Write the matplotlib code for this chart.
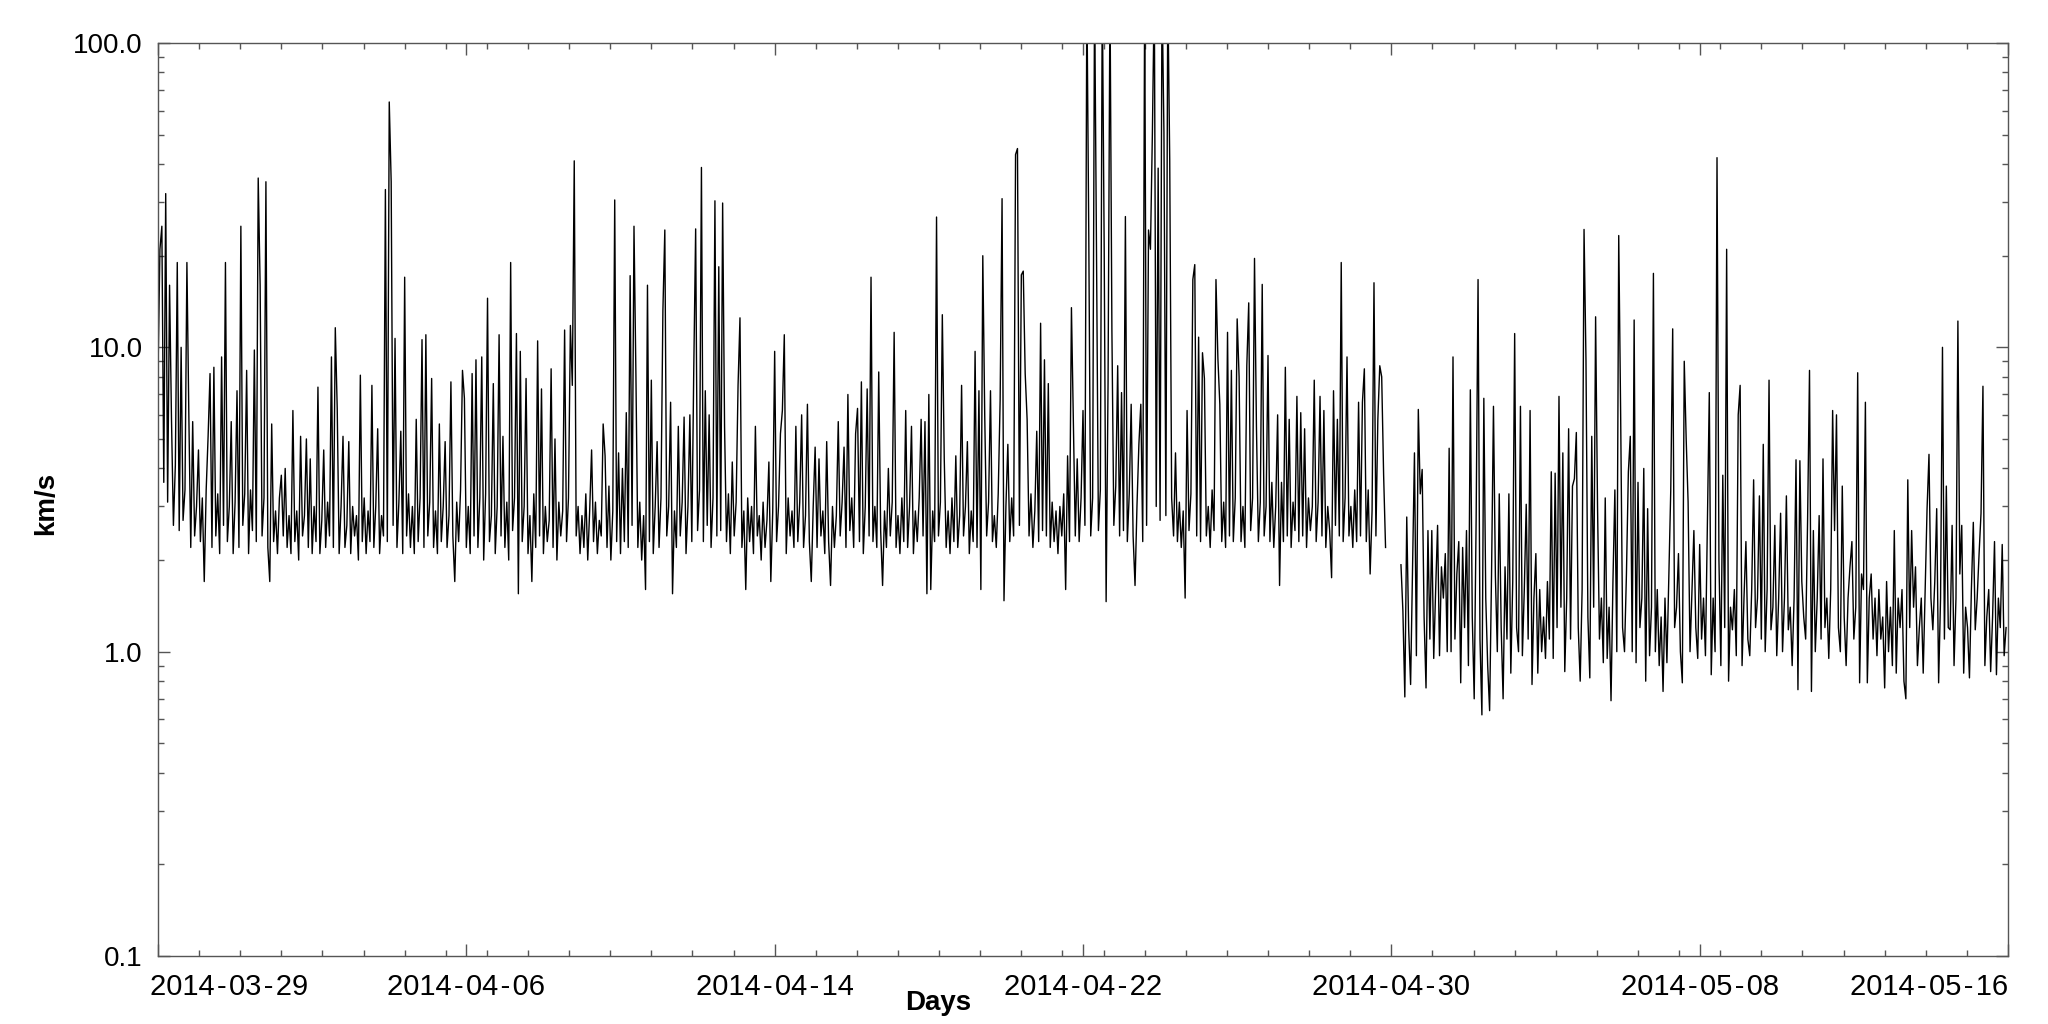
import datetime as dt
import matplotlib
matplotlib.use("Agg")
import matplotlib.pyplot as plt
import matplotlib.transforms as mtransforms
import pandas as pd

# sampled every 72 min from 2014-03-29 00:00; values in km/s
seg1 = [
    8.2, 21, 25, 3.6, 32, 3.1, 16, 5.8, 2.6, 4.1, 19, 2.5, 10, 2.7, 3.4, 19, 6.0, 2.2, 5.7, 2.4,
    3.0, 4.6, 2.3, 3.2, 1.7, 3.4, 5.1, 8.2, 2.2, 8.6, 2.4, 3.3, 2.1, 9.3, 2.6, 19, 2.3, 3.0, 5.7, 2.1,
    3.1, 7.2, 2.2, 25, 2.6, 3.3, 8.4, 2.1, 3.4, 2.5, 9.8, 2.3, 36, 16, 2.4, 3.2, 35, 2.2, 1.7, 5.6,
    2.3, 2.9, 2.1, 3.2, 3.8, 2.4, 4.0, 2.2, 2.8, 2.1, 6.2, 2.3, 2.9, 2.0, 5.1, 2.4, 2.8, 5.0, 2.2, 4.3,
    2.1, 3.0, 2.3, 7.4, 2.1, 2.7, 4.6, 2.2, 3.1, 2.4, 9.3, 2.2, 11.6, 6.3, 2.1, 3.0, 5.1, 2.2, 2.6, 4.9,
    2.1, 3.0, 2.4, 2.8, 2.0, 8.1, 2.3, 3.2, 2.1, 2.9, 2.3, 7.5, 2.2, 3.0, 5.4, 2.1, 2.8, 2.4, 33, 2.3,
    64, 35, 2.6, 10.7, 2.2, 3.1, 5.3, 2.1, 17, 2.4, 3.3, 2.2, 3.0, 2.1, 5.8, 2.3, 3.2, 10.6, 2.2, 11,
    2.4, 3.1, 7.9, 2.2, 2.9, 2.1, 5.6, 2.3, 3.0, 4.9, 2.2, 2.8, 7.7, 2.4, 1.7, 3.1, 2.3, 3.4, 8.4, 6.8,
    2.2, 3.0, 2.1, 8.2, 2.4, 9.1, 2.2, 3.2, 9.3, 2.0, 3.3, 14.5, 2.3, 2.8, 7.6, 2.1, 3.0, 11, 2.4, 5.1,
    2.2, 3.1, 2.0, 19, 2.5, 3.2, 11.1, 1.55, 9.7, 2.3, 3.0, 7.9, 2.1, 2.8, 1.7, 3.3, 2.2, 10.5, 2.4, 7.3,
    2.1, 3.0, 2.3, 2.7, 8.5, 2.2, 5.0, 2.0, 3.1, 2.4, 2.9, 11.4, 2.3, 3.2, 11.8, 7.5, 41, 2.4, 3.0, 2.1,
    2.8, 2.2, 3.3, 2.0, 2.9, 4.6, 2.3, 3.1, 2.1, 2.7, 2.4, 5.6, 4.4, 2.2, 3.5, 2.0, 2.9, 30.5, 2.3, 4.5,
    2.1, 4.0, 2.3, 6.1, 2.2, 17.2, 2.6, 25, 8.1, 2.2, 3.1, 2.0, 2.8, 1.6, 16, 2.3, 7.8, 2.1, 3.0, 4.9,
    2.2, 3.2, 13.2, 24.3, 2.4, 3.0, 6.6, 1.55, 2.9, 2.2, 5.5, 2.4, 3.1, 5.9, 2.1, 3.0, 6.0, 2.3, 8.3, 24.5,
    2.5, 3.4, 39, 2.3, 7.2, 2.6, 6.0, 2.2, 3.2, 30.3, 2.4, 18.4, 2.5, 29.8, 5.5, 2.3, 3.3, 2.1, 4.2, 2.4,
    3.1, 7.5, 12.5, 2.2, 2.9, 1.6, 3.2, 2.3, 3.0, 2.1, 5.5, 2.4, 2.8, 2.0, 3.1, 2.2, 2.7, 4.2, 1.7, 2.9,
    9.7, 2.3, 3.0, 5.2, 6.2, 11, 2.1, 3.2, 2.4, 2.9, 2.2, 5.5, 2.3, 3.1, 6.0, 2.2, 2.8, 6.5, 2.3, 1.7,
    3.0, 4.7, 2.2, 4.3, 2.4, 2.9, 2.1, 4.9, 2.3, 1.65, 3.0, 2.2, 2.8, 5.7, 2.4, 3.1, 4.7, 2.2, 7.0, 2.5,
    3.2, 2.2, 5.2, 6.3, 2.3, 7.7, 2.1, 3.0, 7.3, 2.4, 17, 2.3, 3.0, 2.2, 8.3, 2.5, 1.65, 2.9, 2.2, 4.0,
    2.4, 3.1, 11.2, 2.2, 2.8, 2.1, 3.2, 2.3, 6.2, 2.2, 3.0, 5.5, 2.1, 2.9, 2.3, 3.2, 5.8, 2.4, 5.7, 1.55,
    7.0, 1.6, 2.9, 2.3, 26.8, 2.4, 3.1, 12.8, 4.3, 2.2, 2.9, 2.1, 3.2, 2.3, 4.4, 2.2, 2.8, 7.5, 2.4, 3.0,
    4.9, 2.1, 2.9, 2.3, 9.7, 2.2, 7.2, 1.6, 20, 6.0, 2.4, 3.1, 7.2, 2.3, 2.8, 2.2, 3.3, 6.7, 30.8, 1.47,
    3.0, 4.8, 2.3, 3.2, 2.4, 43, 45, 2.6, 17.3, 17.8, 8.2, 5.8, 2.4, 3.3, 2.2, 2.9, 5.3, 2.3, 12, 2.5,
    9.1, 2.4, 7.6, 2.2, 3.1, 2.3, 2.9, 2.1, 3.0, 2.4, 3.3, 1.6, 4.4, 2.3, 13.5, 5.6, 2.4, 4.3, 2.3, 3.2,
    6.2, 2.6, 150, 23.3, 2.4, 3.2, 150, 21, 2.5, 3.4, 150, 21, 1.46, 7.6, 150, 11.3, 2.6, 3.5, 8.7, 2.4,
    7.1, 2.5, 26.9, 2.3, 3.3, 6.5, 2.4, 1.65, 3.0, 4.8, 6.5, 2.3, 150, 2.6, 24.3, 21, 50.4, 150, 3.0, 38.8,
    2.7, 150, 50.8, 2.8, 150, 41.4, 3.2, 2.4, 4.5, 2.3, 3.1, 2.2, 2.9, 1.5, 6.2, 2.5, 3.3, 16.7, 18.7, 2.4,
    10.8, 2.3, 9.6, 7.9, 2.4, 3.0, 2.2, 3.4, 2.5, 16.7, 9.2, 6.5, 2.3, 3.1, 2.2, 11.2, 2.4, 8.4, 2.3, 3.2,
    12.4, 8.0, 2.3, 3.0, 2.2, 8.7, 14, 2.5, 3.2, 19.6, 5.5, 2.3, 3.1, 16.1, 2.4, 3.0, 9.4, 2.3, 3.6, 2.2,
    3.0, 6.0, 1.65, 3.6, 2.3, 8.6, 2.4, 5.8, 2.2, 3.1, 2.5, 6.9, 2.3, 6.1, 2.4, 5.4, 2.2, 3.2, 2.5, 3.0,
    7.8, 2.3, 3.1, 6.9, 2.4, 6.2, 2.2, 3.0, 2.5, 1.75, 7.2, 2.6, 5.8, 2.4, 19, 2.3, 3.2, 9.3, 2.4, 3.0,
    2.2, 3.4, 2.3, 6.6, 2.4, 6.6, 8.5, 2.3, 3.4, 1.8, 2.9, 16.3, 2.4, 5.8, 8.7, 8.0, 3.8, 2.2,
]

# after the data gap (starts at sample 645)
seg2_start = 645
seg2 = [
    1.93, 1.36, 0.71, 2.77, 1.18, 0.78, 1.9, 4.5, 0.97, 6.25, 3.3, 3.97, 1.3, 0.76, 2.5, 1.1, 2.5, 0.95, 1.6, 2.6,
    0.97, 1.9, 1.5, 2.1, 1.0, 4.66, 1.0, 9.3, 1.1, 1.8, 2.3, 0.79, 2.2, 1.2, 2.5, 0.9, 7.25, 1.3, 0.7, 2.7,
    16.7, 1.1, 0.62, 6.8, 1.5, 0.9, 0.64, 1.8, 6.4, 1.77, 1.0, 3.3, 1.2, 0.7, 1.9, 1.1, 3.3, 0.85, 1.7, 11.1,
    1.2, 1.0, 6.4, 0.97, 1.6, 3.05, 1.1, 6.2, 0.78, 1.5, 2.1, 0.85, 1.6, 1.0, 1.3, 0.95, 1.7, 1.1, 3.9, 0.95,
    3.86, 1.2, 6.9, 1.4, 4.5, 0.86, 1.5, 5.4, 1.1, 3.5, 3.7, 5.25, 1.2, 0.8, 1.6, 24.4, 9.1, 1.3, 0.82, 5.1,
    1.4, 12.6, 3.0, 1.1, 1.5, 0.92, 3.2, 0.95, 1.4, 0.69, 1.7, 3.4, 1.0, 23.3, 6.0, 1.2, 1.0, 1.8, 3.9, 5.1,
    1.0, 12.3, 0.92, 3.6, 1.2, 1.5, 4.0, 0.8, 2.95, 0.97, 1.4, 17.5, 1.0, 1.6, 0.9, 1.3, 0.74, 1.5, 0.92, 1.8,
    3.4, 11.5, 1.2, 1.4, 2.1, 1.0, 0.79, 9.0, 5.0, 3.1, 1.0, 1.6, 2.5, 1.2, 0.95, 2.25, 1.1, 1.5, 0.97, 2.6,
    7.1, 0.84, 1.5, 1.0, 42, 2.0, 0.9, 3.8, 1.2, 21, 0.8, 1.4, 1.18, 1.6, 0.97, 6.0, 7.5, 0.9, 1.5, 2.3,
    1.1, 0.97, 1.6, 3.67, 1.2, 1.5, 3.25, 1.1, 4.8, 1.0, 1.6, 7.8, 1.18, 1.4, 2.6, 0.97, 1.5, 2.85, 1.0, 1.5,
    3.25, 1.18, 1.4, 0.9, 1.5, 4.27, 0.75, 4.24, 1.7, 1.3, 1.1, 2.7, 8.4, 0.74, 2.5, 1.0, 1.5, 2.8, 1.1, 4.3,
    1.2, 1.5, 0.95, 1.6, 6.2, 2.5, 6.0, 1.2, 1.0, 3.5, 1.3, 0.9, 1.5, 1.9, 2.3, 1.1, 1.4, 8.25, 0.79, 1.8,
    1.6, 6.6, 0.79, 1.5, 1.8, 1.1, 1.5, 0.97, 1.6, 1.1, 1.3, 0.76, 1.7, 1.0, 1.4, 0.9, 2.5, 0.85, 1.5, 1.2,
    1.6, 0.8, 0.7, 3.67, 1.2, 2.5, 1.4, 1.9, 0.9, 1.2, 1.5, 0.85, 1.6, 2.95, 4.45, 1.5, 1.18, 1.7, 2.95, 0.79,
    1.5, 10, 1.1, 3.5, 1.2, 1.18, 2.6, 0.9, 1.5, 12.2, 1.8, 2.6, 0.85, 1.4, 1.2, 0.82, 1.6, 2.66, 1.18, 1.5,
    2.1, 2.85, 7.45, 0.9, 1.3, 1.6, 0.86, 1.3, 2.3, 0.84, 1.5, 1.2, 2.25, 0.97, 1.2,
]

x_start = dt.datetime(2014, 3, 29)
x_end = dt.datetime(2014, 5, 16)
major_dates = pd.date_range("2014-03-29", "2014-05-16", freq="8D")
y_ticks = [0.1, 1.0, 10.0, 100.0]
y_labels = ["0.1", "1.0", "10.0", "100.0"]


def main():
    plt.rcParams["font.family"] = ["Liberation Sans", "DejaVu Sans"]

    times = pd.date_range(x_start, periods=seg2_start + len(seg2), freq="72min")
    t1 = times[:len(seg1)]
    t2 = times[seg2_start:seg2_start + len(seg2)]

    fig = plt.figure(figsize=(20.48, 10.24), dpi=100)
    ax = fig.add_axes([158 / 2048, 1 - 956 / 1024, 1850 / 2048, 913 / 1024])

    ax.plot(t1, seg1, color="black", lw=1.0)
    ax.plot(t2, seg2, color="black", lw=1.0)

    ax.set_yscale("log")
    ax.set_ylim(0.1, 100)
    ax.set_xlim(x_start, x_end)

    ax.set_yticks(y_ticks)
    ax.set_yticklabels(y_labels)

    # hair spaces: the original's dashes sit a bit looser than a plain hyphen
    ax.set_xticks(major_dates)
    ax.set_xticklabels([d.strftime("%Y-%m-%d").replace("-", "\u200a-\u200a")
                        for d in major_dates])
    minor = pd.date_range(x_start, x_end, freq="1536min")
    ax.set_xticks(minor, minor=True)

    ax.tick_params(which="both", direction="in", top=True, right=True,
                   color="#555555", width=1.0, labelsize=20)
    ax.tick_params(axis="x", labelsize=21)
    ax.tick_params(which="major", length=8.5)
    ax.tick_params(which="minor", length=4.3)
    ax.tick_params(axis="x", pad=12)
    ax.tick_params(axis="y", pad=11)
    for s in ax.spines.values():
        s.set_color("#555555")
        s.set_linewidth(1.0)

    labels = ax.get_xticklabels()
    labels[0].set_horizontalalignment("left")
    labels[0].set_transform(labels[0].get_transform() +
                            mtransforms.ScaledTranslation(-0.08, 0, fig.dpi_scale_trans))
    labels[-1].set_horizontalalignment("right")

    fig.text(938 / 2048, 1 - 1003 / 1024, "Days", ha="center", va="center",
             fontsize=20, fontweight="bold")
    fig.text(46 / 2048, 1 - 503 / 1024, "km/s", ha="center", va="center",
             rotation=90, fontsize=20, fontweight="bold")

    fig.savefig("out.png", dpi=100)


if __name__ == "__main__":
    main()
